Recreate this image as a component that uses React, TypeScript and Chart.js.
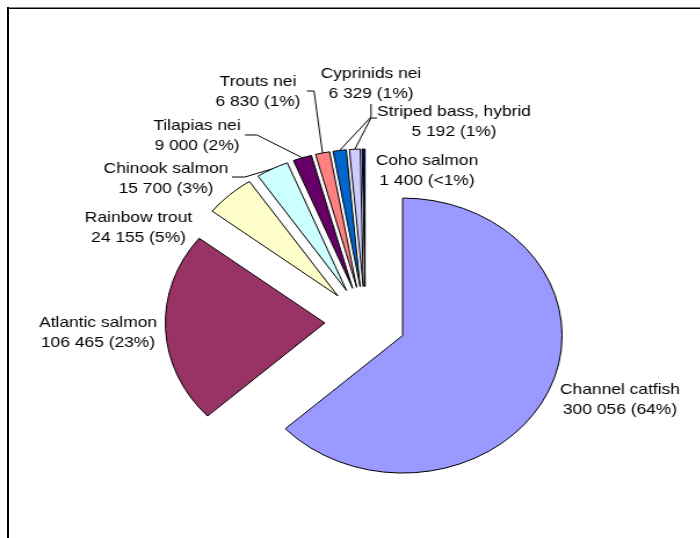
import { useEffect, useRef } from "react";
import { Chart, registerables } from "chart.js";

Chart.register(...registerables);

// Aquaculture production by species (tonnes)
const species = [
  "Channel catfish",
  "Atlantic salmon",
  "Rainbow trout",
  "Chinook salmon",
  "Tilapias nei",
  "Trouts nei",
  "Cyprinids nei",
  "Striped bass, hybrid",
  "Coho salmon",
];
const tonnes = [300056, 106465, 24155, 15700, 9000, 6830, 6329, 5192, 1400];
const shareLabels = ["64%", "23%", "5%", "3%", "2%", "1%", "1%", "1%", "<1%"];
const sliceColors = [
  "#9999FF",
  "#993366",
  "#FFFFCC",
  "#CCFFFF",
  "#660066",
  "#FF8080",
  "#0066CC",
  "#CCCCFF",
  "#000080",
];

// Layout: the whole drawing is widened horizontally, as the original sheet chart was.
const STRETCH = 1.16;
const CANVAS_W = 604;
const CANVAS_H = 538;
const PIE_RADIUS = 137.5;
const EXPLODE = 35;
const LINE_GAP = 19.5;
const FONT = '15px "Liberation Sans", Arial, sans-serif';

// Label anchors in page pixels: [centre x, first baseline]
const labelAnchors: [number, number][] = [
  [620, 394],
  [98, 327],
  [138.5, 222],
  [166, 173],
  [197, 130],
  [258, 86],
  [371, 78],
  [454, 116],
  [427, 165],
];
// Leader lines in page pixels: start and elbow; the end sits on the slice's outer arc
const leaderLines: ([number, number][] | null)[] = [
  null,
  null,
  null,
  [[232, 177], [245, 177]],
  [[245, 135], [257, 135]],
  [[307, 91], [314, 91]],
  [[371, 104], [371, 117]],
  [[377, 118], [371, 118]],
  null,
];

const groupThousands = (v: number) =>
  String(v).replace(/\B(?=(\d{3})+(?!\d))/g, " ");

const px = (x: number) => x / STRETCH;

function arcTip(arc: any): [number, number] {
  const mid = (arc.startAngle + arc.endAngle) / 2;
  return [arc.x + Math.cos(mid) * PIE_RADIUS, arc.y + Math.sin(mid) * PIE_RADIUS];
}

// Pulls every slice out of the pie by the same distance along its bisector
const explodePlugin = {
  id: "explodeSlices",
  afterDatasetUpdate(chart: any) {
    const meta = chart.getDatasetMeta(0);
    meta.data.forEach((arc: any) => {
      const mid = (arc.startAngle + arc.endAngle) / 2;
      arc.x += Math.cos(mid) * EXPLODE;
      arc.y += Math.sin(mid) * EXPLODE;
    });
  },
};

const sliceLabelPlugin = {
  id: "sliceLabels",
  beforeDatasetsDraw(chart: any) {
    const ctx: CanvasRenderingContext2D = chart.ctx;
    const meta = chart.getDatasetMeta(0);
    ctx.save();
    ctx.strokeStyle = "#000";
    ctx.lineWidth = 1;
    leaderLines.forEach((pts, i) => {
      if (!pts) return;
      const [ex, ey] = arcTip(meta.data[i]);
      ctx.beginPath();
      ctx.moveTo(px(pts[0][0]), pts[0][1]);
      ctx.lineTo(px(pts[1][0]), pts[1][1]);
      ctx.lineTo(ex, ey);
      ctx.stroke();
    });
    ctx.restore();
  },
  afterDatasetsDraw(chart: any) {
    const ctx: CanvasRenderingContext2D = chart.ctx;
    ctx.save();
    ctx.font = FONT;
    ctx.fillStyle = "#000";
    ctx.textAlign = "center";
    ctx.textBaseline = "alphabetic";
    species.forEach((name, i) => {
      const [x, y] = labelAnchors[i];
      ctx.fillText(name, px(x), y);
      ctx.fillText(
        `${groupThousands(tonnes[i])} (${shareLabels[i]})`,
        px(x),
        y + LINE_GAP
      );
    });
    ctx.restore();
  },
};

export default function App() {
  const canvasRef = useRef<HTMLCanvasElement>(null);

  useEffect(() => {
    const canvas = canvasRef.current;
    if (!canvas) return;
    const chart = new Chart(canvas, {
      type: "pie",
      data: {
        labels: species,
        datasets: [
          {
            data: tonnes,
            backgroundColor: sliceColors,
            borderColor: "#000",
            borderWidth: 1,
            borderJoinStyle: "miter",
            offset: 0,
            hoverOffset: 0,
          } as any,
        ],
      },
      options: {
        responsive: false,
        animation: false,
        devicePixelRatio: 1,
        radius: PIE_RADIUS,
        layout: { padding: { left: 26, right: 0, top: 105, bottom: 0 } },
        plugins: {
          legend: { display: false },
          tooltip: { enabled: false },
        },
        events: [],
      } as any,
      plugins: [explodePlugin, sliceLabelPlugin],
    });
    return () => chart.destroy();
  }, []);

  return (
    <div
      style={{
        position: "absolute",
        left: 0,
        top: 0,
        width: 700,
        height: 538,
        overflow: "hidden",
        background: "#fff",
      }}
    >
      <canvas
        ref={canvasRef}
        width={CANVAS_W}
        height={CANVAS_H}
        style={{
          position: "absolute",
          left: 0,
          top: 0,
          transform: `scaleX(${STRETCH})`,
          transformOrigin: "0 0",
        }}
      />
      {/* chart frame */}
      <div style={{ position: "absolute", left: 7, top: 7, width: 693, height: 1, background: "#808080" }} />
      <div style={{ position: "absolute", left: 7, top: 8, width: 693, height: 1, background: "#000" }} />
      <div style={{ position: "absolute", left: 7, top: 7, width: 2, height: 531, background: "#000" }} />
    </div>
  );
}
